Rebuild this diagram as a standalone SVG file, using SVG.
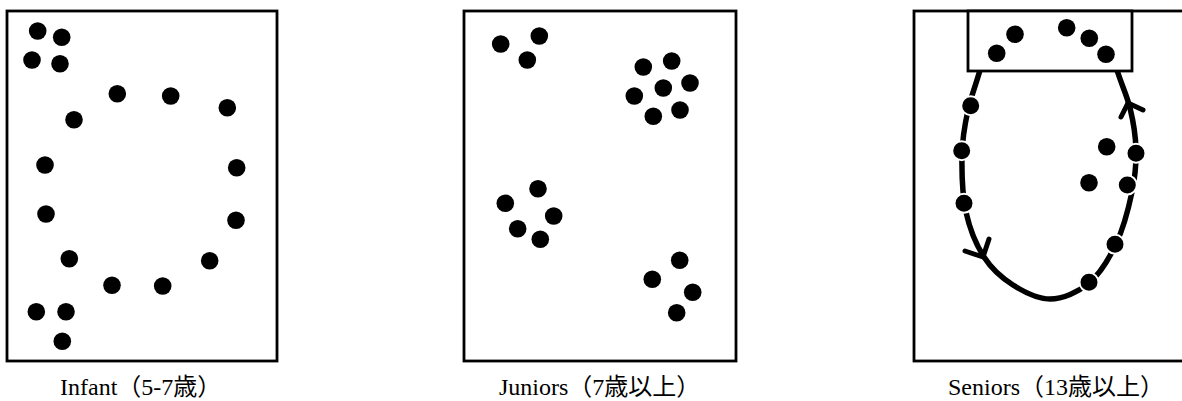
<svg xmlns="http://www.w3.org/2000/svg" width="1182" height="401" viewBox="0 0 1182 401">
<style>
.box{fill:#fff;stroke:#000;stroke-width:2.8}
.d{fill:#000}
.dw{fill:#000;stroke:#fff;stroke-width:2}
.loop{fill:none;stroke:#000;stroke-width:5.5}
.arr{fill:none;stroke:#000;stroke-width:5;stroke-linecap:round;stroke-linejoin:round}
.lbl{font-family:"Liberation Serif","Noto Sans CJK JP",serif;font-size:24px;fill:#000}
</style>
<rect width="1182" height="401" fill="#fff"/>
<g id="infant">
<rect class="box" x="7" y="11" width="270" height="350"/>
<g class="d">
<circle cx="37.7" cy="31" r="8.8"/><circle cx="61.7" cy="37.3" r="8.8"/><circle cx="32" cy="60" r="8.8"/><circle cx="60" cy="63.7" r="8.8"/>
<circle cx="117.3" cy="93.7" r="8.8"/><circle cx="170.7" cy="96" r="8.8"/><circle cx="227.3" cy="107.7" r="8.8"/><circle cx="74" cy="119.7" r="8.8"/>
<circle cx="45" cy="165" r="8.8"/><circle cx="236.7" cy="167.7" r="8.8"/><circle cx="46" cy="214" r="8.8"/><circle cx="236" cy="220.3" r="8.8"/>
<circle cx="69.3" cy="258.7" r="8.8"/><circle cx="209.7" cy="260.7" r="8.8"/><circle cx="112" cy="285.3" r="8.8"/><circle cx="162.7" cy="286" r="8.8"/>
<circle cx="36.3" cy="311.7" r="8.8"/><circle cx="66" cy="311.7" r="8.8"/><circle cx="62.3" cy="341.3" r="8.8"/>
</g>
<text class="lbl" x="60" y="395">Infant（5-7歳）</text>
</g>
<g id="juniors">
<rect class="box" x="464" y="11" width="272" height="350"/>
<g class="d">
<circle cx="500.7" cy="44" r="8.8"/><circle cx="539.3" cy="36" r="8.8"/><circle cx="527.3" cy="60" r="8.8"/>
<circle cx="643.3" cy="67" r="8.8"/><circle cx="671.7" cy="61" r="8.8"/><circle cx="690" cy="83" r="8.8"/><circle cx="663.3" cy="88" r="8.8"/><circle cx="634.3" cy="96" r="8.8"/><circle cx="680" cy="110" r="8.8"/><circle cx="653.3" cy="116.3" r="8.8"/>
<circle cx="538" cy="188.7" r="8.8"/><circle cx="505.3" cy="203.3" r="8.8"/><circle cx="553.7" cy="216" r="8.8"/><circle cx="517.7" cy="228.7" r="8.8"/><circle cx="540.3" cy="239.3" r="8.8"/>
<circle cx="679.7" cy="260.3" r="8.8"/><circle cx="652.3" cy="279.3" r="8.8"/><circle cx="692.7" cy="292.3" r="8.8"/><circle cx="676.7" cy="312.7" r="8.8"/>
</g>
<text class="lbl" x="499" y="395">Juniors（7歳以上）</text>
</g>
<g id="seniors">
<rect class="box" x="914" y="11" width="280" height="350"/>
<g id="connectors">
<path class="loop" d="M980 70 C976 84.7 971 96.2 968 110 C965 123.8 962.3 138 962 155 C961.7 172 962.3 195 966 212 C969.7 229 976.2 244.8 984 257 C991.8 269.2 1002 278 1013 285 C1024 292 1037.3 299 1050 299 C1062.7 299 1078 292.2 1089 283 C1100 273.8 1108.8 259.2 1116 244 C1123.2 228.8 1128.7 207.7 1132 192 C1135.3 176.3 1136.3 164 1136 150 C1135.7 136 1133.2 121 1130 108 C1126.8 95 1121.3 84 1117 70"/>
<polyline class="arr" points="965,251 983,257 989,239"/>
<polyline class="arr" points="1121,117 1128,103 1143,110"/>
</g>
<rect class="box" x="968" y="11" width="164" height="60"/>
<g class="d">
<circle cx="996.7" cy="53.3" r="8.8"/><circle cx="1015" cy="34.3" r="8.8"/><circle cx="1066.7" cy="27.7" r="8.8"/><circle cx="1089.3" cy="38.3" r="8.8"/><circle cx="1106" cy="54.3" r="8.8"/>
<circle cx="1106.7" cy="146.7" r="8.8"/><circle cx="1089" cy="182.7" r="8.8"/>
</g>
<g class="dw">
<circle cx="970.7" cy="105.7" r="9.5"/><circle cx="961.7" cy="150.7" r="9.5"/><circle cx="964" cy="203.3" r="9.5"/>
<circle cx="1136" cy="153.3" r="9.5"/><circle cx="1127.3" cy="185" r="9.5"/><circle cx="1115" cy="244.3" r="9.5"/><circle cx="1089" cy="282.3" r="9.5"/>
</g>
<text class="lbl" x="948" y="395">Seniors（13歳以上）</text>
</g>
</svg>
